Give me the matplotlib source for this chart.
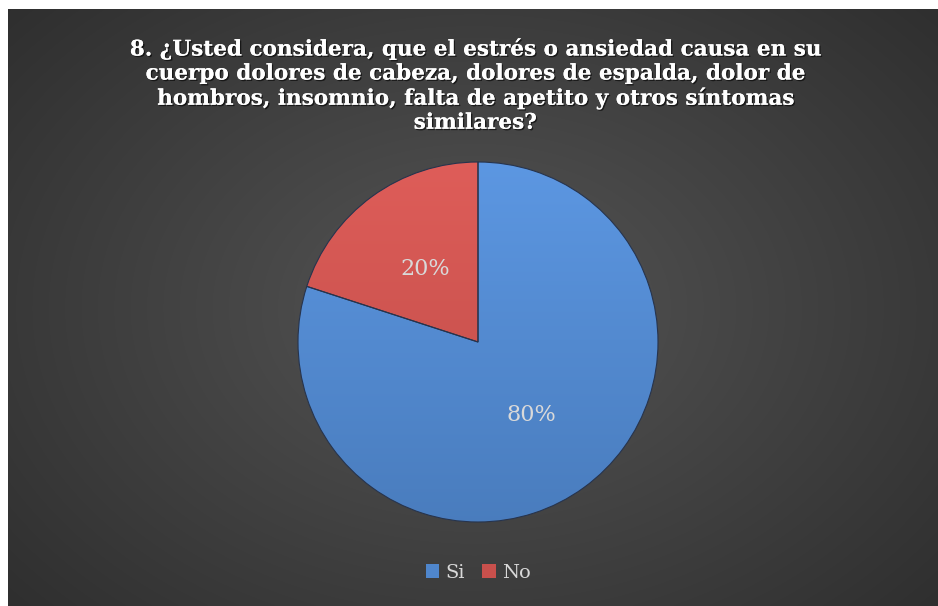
import numpy as np
import matplotlib.pyplot as plt
import matplotlib.patheffects as pe
from matplotlib.patches import Patch
from matplotlib.colors import to_rgb

categories = ["Si", "No"]
values = [80, 20]
colors = ["#4f86cc", "#c9504c"]
title = ("8. ¿Usted considera, que el estrés o ansiedad causa en su\n"
         "cuerpo dolores de cabeza, dolores de espalda, dolor de\n"
         "hombros, insomnio, falta de apetito y otros síntomas\n"
         "similares?")

W, H = 938, 606
fig = plt.figure(figsize=(W / 100, H / 100), dpi=100)
fig.patch.set_facecolor("white")

# background with radial gradient
bg = fig.add_axes([8 / W, 0, (W - 8) / W, (H - 9) / H])
yy, xx = np.mgrid[0:300, 0:460]
cx, cy = 230, 150
r = np.sqrt(((xx - cx) / 260.0) ** 2 + ((yy - cy) / 190.0) ** 2)
r = np.clip(r, 0, 1.4) / 1.4
c0 = np.array([0x55, 0x55, 0x55]) / 255
c1 = np.array([0x28, 0x28, 0x28]) / 255
img = c0[None, None, :] * (1 - r[..., None]) + c1[None, None, :] * r[..., None]
bg.imshow(img, aspect="auto", extent=[0, 1, 0, 1], interpolation="bilinear")
bg.set_axis_off()

# pie
cxp, cyp, rad = 478, H - 342, 180
ax = fig.add_axes([(cxp - rad) / W, (cyp - rad) / H, 2 * rad / W, 2 * rad / H])
ax.set_facecolor("none")
wedges, texts, autotexts = ax.pie(
    values, colors=colors, startangle=90, counterclock=False,
    autopct="%1.0f%%", pctdistance=0.5,
    wedgeprops=dict(edgecolor="#27344d", linewidth=0.8),
    textprops=dict(color="#d9d9d9", fontsize=16, family="DejaVu Serif"))
# vertical shading inside each wedge
gy = np.linspace(0, 1, 200)[:, None]
for w, c in zip(wedges, colors):
    base = np.array(to_rgb(c))
    top = np.clip(base * 1.07 + 0.03, 0, 1)
    bot = base * 0.93
    grad = top[None, None, :] * (1 - gy[..., None]) + bot[None, None, :] * gy[..., None]
    grad = np.repeat(grad, 2, axis=1)
    im = ax.imshow(grad, extent=[-1, 1, -1, 1], aspect="auto", zorder=w.get_zorder() + 0.1,
                   interpolation="bilinear")
    im.set_clip_path(w)
for w in wedges:
    w.set_zorder(w.get_zorder() + 0.2)
    w.set_facecolor("none")
for t in autotexts:
    t.set_zorder(5)
ax.set_xlim(-1, 1)
ax.set_ylim(-1, 1)
ax.set_aspect("equal")
ax.set_axis_off()

fig.text(475 / W, 1 - 37 / H, title, ha="center", va="top", color="white",
         fontsize=15.5, fontweight="bold", family="DejaVu Serif",
         linespacing=1.12,
         path_effects=[pe.withSimplePatchShadow(offset=(1, -1), shadow_rgbFace="black", alpha=0.6), pe.Normal()])

handles = [Patch(facecolor=c, edgecolor="none") for c in colors]
leg = fig.legend(handles, categories, loc="center", bbox_to_anchor=(478 / W, 1 - 573 / H),
                 ncol=2, frameon=False, handlelength=0.7, handleheight=0.7,
                 handletextpad=0.3, columnspacing=0.9,
                 prop=dict(family="DejaVu Serif", size=14))
for t in leg.get_texts():
    t.set_color("#d9d9d9")

fig.savefig("out.png", dpi=100)
